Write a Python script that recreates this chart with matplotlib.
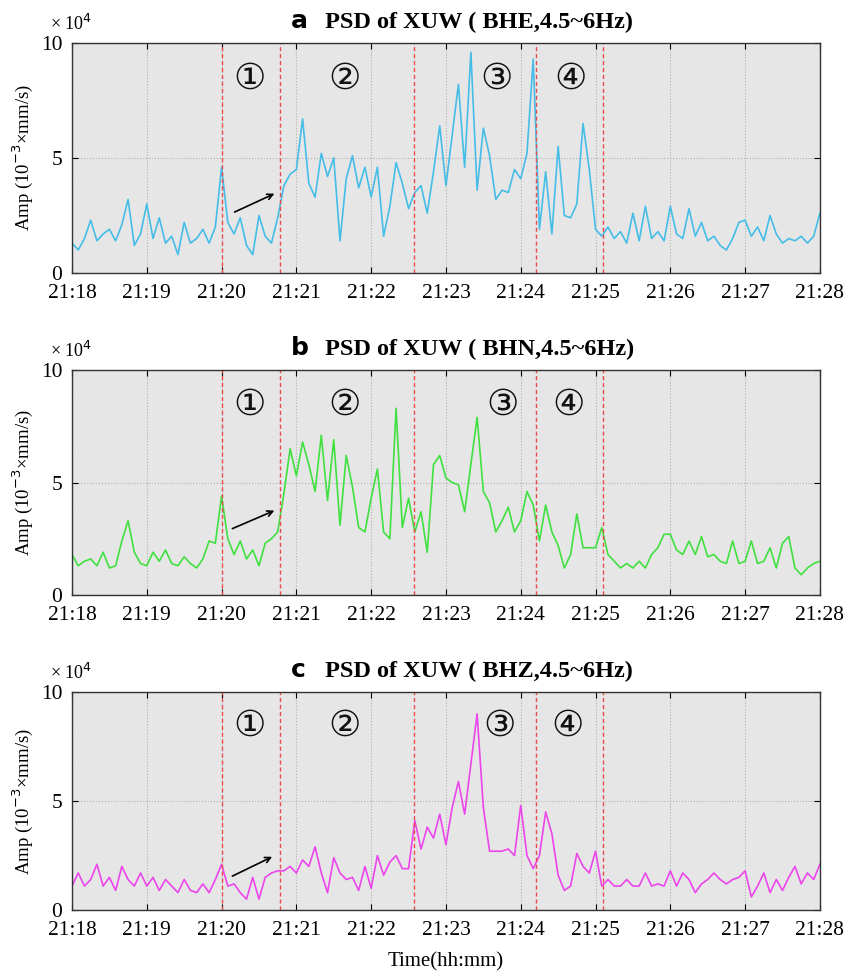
import numpy as np
import matplotlib
matplotlib.use("Agg")
import matplotlib.pyplot as plt

# time axis: minutes after 21:18, 5 s steps
t = np.arange(121) / 12.0
tick_pos = [0, 1, 2, 3, 4, 5, 6, 7, 8, 9, 10]
tick_labels = ["21:18", "21:19", "21:20", "21:21", "21:22", "21:23",
               "21:24", "21:25", "21:26", "21:27", "21:28"]

# amplitudes, x10^4 (10^-3 mm/s)
bhe = [1.3, 1.0, 1.5, 2.3, 1.4, 1.7, 1.9, 1.4, 2.1, 3.2, 1.2, 1.7,
       3.0, 1.5, 2.4, 1.3, 1.6, 0.8, 2.2, 1.3, 1.5, 1.9, 1.3, 2.0,
       4.6, 2.2, 1.7, 2.4, 1.2, 0.8, 2.5, 1.6, 1.3, 2.4, 3.8, 4.3,
       4.5, 6.7, 3.9, 3.3, 5.2, 4.2, 5.0, 1.4, 4.1, 5.1, 3.7, 4.6,
       3.3, 4.6, 1.6, 2.9, 4.8, 3.9, 2.8, 3.5, 3.8, 2.6, 4.4, 6.4,
       3.8, 6.0, 8.2, 4.6, 9.6, 3.6, 6.3, 5.1, 3.2, 3.6, 3.5, 4.5,
       4.1, 5.2, 9.3, 1.9, 4.4, 1.7, 5.5, 2.5, 2.4, 3.0, 6.5, 4.5,
       1.9, 1.6, 2.0, 1.5, 1.8, 1.3, 2.6, 1.4, 2.9, 1.5, 1.8, 1.4,
       2.9, 1.7, 1.5, 2.8, 1.6, 2.2, 1.4, 1.6, 1.2, 1.0, 1.5, 2.2,
       2.3, 1.6, 2.0, 1.4, 2.5, 1.7, 1.3, 1.5, 1.4, 1.6, 1.3, 1.6,
       2.6]

bhn = [1.8, 1.3, 1.5, 1.6, 1.3, 1.9, 1.2, 1.3, 2.4, 3.3, 1.9, 1.4,
       1.3, 1.9, 1.5, 2.0, 1.4, 1.3, 1.7, 1.4, 1.2, 1.6, 2.4, 2.3,
       4.4, 2.5, 1.8, 2.4, 1.6, 2.0, 1.3, 2.3, 2.5, 2.8, 4.5, 6.5,
       5.3, 6.8, 5.8, 4.6, 7.1, 4.2, 6.9, 3.1, 6.2, 4.8, 3.0, 2.8,
       4.3, 5.6, 2.8, 2.5, 8.3, 3.0, 4.3, 2.8, 3.7, 1.9, 5.8, 6.2,
       5.2, 5.0, 4.9, 3.7, 5.8, 7.9, 4.6, 4.1, 2.8, 3.3, 3.9, 2.8,
       3.3, 4.6, 4.0, 2.4, 4.0, 2.8, 2.2, 1.2, 1.8, 3.6, 2.1, 2.1,
       2.1, 3.0, 1.8, 1.5, 1.2, 1.4, 1.2, 1.5, 1.2, 1.8, 2.1, 2.7,
       2.7, 2.0, 1.8, 2.4, 1.8, 2.6, 1.7, 1.8, 1.5, 1.4, 2.4, 1.4,
       1.5, 2.4, 1.4, 1.5, 2.1, 1.2, 2.3, 2.6, 1.2, 0.9, 1.2, 1.4,
       1.5]

bhz = [1.1, 1.7, 1.1, 1.4, 2.1, 1.1, 1.5, 0.9, 2.0, 1.4, 1.1, 1.7,
       1.1, 1.5, 0.9, 1.4, 1.1, 0.8, 1.4, 0.9, 0.8, 1.2, 0.8, 1.4,
       2.1, 1.1, 1.2, 0.8, 0.5, 1.5, 0.5, 1.5, 1.7, 1.8, 1.8, 2.0,
       1.7, 2.3, 2.0, 2.9, 1.7, 0.8, 2.4, 1.7, 1.4, 1.5, 0.9, 2.0,
       1.0, 2.5, 1.6, 2.2, 2.5, 1.9, 1.9, 4.1, 2.8, 3.8, 3.3, 4.4,
       3.0, 4.7, 5.9, 4.4, 6.7, 9.0, 4.7, 2.7, 2.7, 2.7, 2.8, 2.5,
       4.8, 2.5, 1.9, 2.5, 4.5, 3.5, 1.6, 0.9, 1.1, 2.6, 2.0, 1.7,
       2.7, 1.1, 1.4, 1.1, 1.1, 1.4, 1.1, 1.1, 1.7, 1.1, 1.2, 1.1,
       1.8, 1.1, 1.7, 1.4, 0.8, 1.2, 1.4, 1.7, 1.4, 1.2, 1.4, 1.5,
       1.8, 0.6, 1.1, 1.7, 0.8, 1.4, 0.9, 1.5, 2.0, 1.2, 1.7, 1.4,
       2.1]

phase_lines = [2.0, 2.78, 4.57, 6.21, 7.1]
phase_marks = ["\u2460", "\u2461", "\u2462", "\u2463"]

panels = [
    ("a", "BHE", bhe, "#45bde6", [2.38, 3.65, 5.68, 6.66]),
    ("b", "BHN", bhn, "#40e040", [2.38, 3.65, 5.76, 6.64]),
    ("c", "BHZ", bhz, "#ec45ec", [2.38, 3.65, 5.72, 6.63]),
]
arrows = [((2.14, 2.6), (2.74, 3.5)),
          ((2.11, 2.9), (2.74, 3.8)),
          ((2.11, 1.5), (2.71, 2.5))]

# axes rectangles in figure fraction
rects = [[0.085, 0.7194, 0.883, 0.2364],
         [0.085, 0.3885, 0.883, 0.2312],
         [0.085, 0.0647, 0.883, 0.2240]]

serif = "Liberation Serif"
fig = plt.figure(figsize=(8.47, 9.73), dpi=100)

for i, (letter, comp, vals, col, mark_x) in enumerate(panels):
    ax = fig.add_axes(rects[i])
    ax.set_facecolor("#e6e6e6")
    ax.plot(t, vals, color=col, lw=1.2)
    for x in phase_lines:
        ax.axvline(x, color="#e84c4c", lw=1.0, ls=(0, (3, 2)))
    for m, x in zip(phase_marks, mark_x):
        ax.text(x, 8.45, m, fontsize=26, ha="center", va="center",
                family="DejaVu Sans", color="#111111")
    (x0, y0), (x1, y1) = arrows[i]
    ax.annotate("", xy=(x1, y1), xytext=(x0, y0),
                arrowprops=dict(arrowstyle="->", color="black", lw=1.2))

    ax.set_xlim(0, 10)
    ax.set_ylim(0, 10)
    ax.set_xticks(tick_pos)
    ax.set_xticklabels(tick_labels, family=serif, fontsize=15.5)
    ax.set_yticks([0, 5, 10])
    ax.set_yticklabels(["0", "5", "10"], family=serif, fontsize=15.5)
    ax.tick_params(direction="in", top=True, right=True, length=4)
    ax.tick_params(axis="x", pad=8)
    ax.tick_params(axis="y", pad=7)
    ax.grid(True, color="#b0b0b0", ls=":", lw=0.8)
    for s in ax.spines.values():
        s.set_linewidth(1.0)
        s.set_color("#333333")
    ax.set_ylabel("Amp (10$^{-3}$\u00d7mm/s)", family=serif, fontsize=13.5,
                  labelpad=4)
    ax.text(-0.03, 1.04, "\u00d7 10$^4$", transform=ax.transAxes,
            family=serif, fontsize=13, ha="left", va="bottom")
    ax.text(0.293, 1.045, letter, transform=ax.transAxes, family="DejaVu Sans",
            fontweight="bold", fontsize=18, ha="left", va="bottom")
    ax.text(0.338, 1.045, "PSD of XUW ( %s,4.5~6Hz)" % comp,
            transform=ax.transAxes, family=serif, fontweight="bold",
            fontsize=17.5, ha="left", va="bottom")
    if i == 2:
        ax.set_xlabel("Time(hh:mm)", family=serif, fontsize=15, labelpad=9)

fig.savefig("out.png", dpi=100)
